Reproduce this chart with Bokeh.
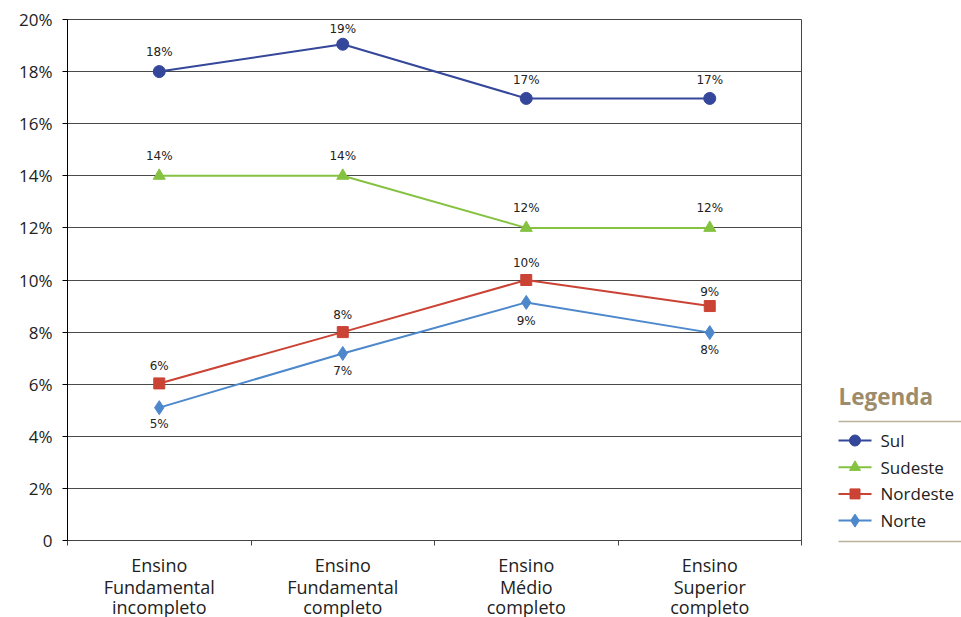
from bokeh.plotting import figure
from bokeh.layouts import row, column
from bokeh.models import FixedTicker, Range1d, ColumnDataSource
from bokeh.core.properties import value
from bokeh.embed import file_html
from bokeh.resources import INLINE

# Education levels (x categories)
categories = [
    "Ensino\nFundamental\nincompleto",
    "Ensino\nFundamental\ncompleto",
    "Ensino\nMédio\ncompleto",
    "Ensino\nSuperior\ncompleto",
]

# Share (%) per region
sul = [18.0, 19.05, 16.97, 16.97]
sudeste = [14.0, 14.0, 12.0, 12.0]
nordeste = [6.03, 8.0, 10.0, 9.0]
norte = [5.1, 7.18, 9.14, 7.98]

y_ticks = [0, 2, 4, 6, 8, 10, 12, 14, 16, 18, 20]

series = [
    # name, values, colour, marker, marker size, label offsets (px)
    ("Sul", sul, "#34479A", "circle", 12, [-20, -15, -18, -18]),
    ("Sudeste", sudeste, "#86C241", "triangle", 12, [-20, -20, -20, -20]),
    ("Nordeste", nordeste, "#CB4335", "square", 11, [-17, -17, -17, -14]),
    ("Norte", norte, "#4C88CB", "diamond", 14, [16, 18, 19, 17]),
]

AXIS_FONT = "Open Sans"
TEXT_COLOR = "#222222"
FRAME_COLOR = "#444444"
n = len(categories)
xs = [i + 0.5 for i in range(n)]
bounds = list(range(n + 1))
label_lines = [c.split("\n") for c in categories]

# ---- main chart -------------------------------------------------------
MAIN_H = 554
p = figure(
    width=820, height=MAIN_H,
    x_range=Range1d(0, n), y_range=Range1d(0, 20),
    output_backend="svg", toolbar_location=None,
    min_border_left=67, min_border_right=19,
    min_border_top=19, min_border_bottom=MAIN_H - 540,
)
p.outline_line_color = FRAME_COLOR
p.outline_line_width = 1
p.background_fill_color = "white"
p.border_fill_color = "white"

p.yaxis.ticker = FixedTicker(ticks=y_ticks)
p.yaxis.major_label_overrides = {t: ("0" if t == 0 else f"{t}%") for t in y_ticks}
p.yaxis.major_label_text_font = AXIS_FONT
p.yaxis.major_label_text_font_size = "17px"
p.yaxis.major_label_text_color = TEXT_COLOR
p.yaxis.major_tick_out = 5
p.yaxis.major_tick_in = 0
p.yaxis.minor_tick_line_color = None
p.yaxis.axis_line_color = "black"
p.yaxis.major_tick_line_color = "black"
p.yaxis.major_label_standoff = 10

# x axis: only tick marks at the category boundaries (names drawn below)
p.xaxis.ticker = FixedTicker(ticks=[], minor_ticks=bounds)
p.xaxis.minor_tick_out = 5
p.xaxis.minor_tick_in = 0
p.xaxis.minor_tick_line_color = FRAME_COLOR
p.xaxis.axis_line_color = FRAME_COLOR
p.xaxis.major_label_standoff = 0
p.xaxis.major_label_text_font_size = "1px"

p.xgrid.grid_line_color = None
p.ygrid.ticker = FixedTicker(ticks=y_ticks)
p.ygrid.grid_line_color = "#4a4a4a"
p.ygrid.grid_line_width = 1

for name, vals, color, marker, size, offsets in series:
    src = ColumnDataSource(dict(
        x=xs, y=vals, label=[f"{round(v):d}%" for v in vals], dy=offsets,
    ))
    p.line("x", "y", source=src, line_color=color, line_width=2)
    p.scatter("x", "y", source=src, marker=marker, size=size,
              fill_color=color, line_color=color)
    p.text("x", "y", text="label", source=src,
           text_font=value("DejaVu Sans"), text_font_size="12px",
           text_color=TEXT_COLOR, text_align="center",
           text_baseline="middle", y_offset="dy")

# ---- category names strip (shares the x range, pixel rows on y) ----------
STRIP_H = 617 - MAIN_H
ax = figure(
    width=820, height=STRIP_H,
    x_range=p.x_range, y_range=Range1d(STRIP_H, 0),
    output_backend="svg", toolbar_location=None,
    min_border_left=67, min_border_right=19,
    min_border_top=0, min_border_bottom=0,
)
ax.axis.visible = False
ax.grid.grid_line_color = None
ax.outline_line_color = None

line_rows = [10.5, 32.5, 52]
for k, yrow in enumerate(line_rows):
    ax.text(x=xs, y=[yrow] * n, text=[ln[k] for ln in label_lines],
            text_font=value(AXIS_FONT), text_font_size="18px",
            text_color=TEXT_COLOR, text_align="center",
            text_baseline="middle")

# ---- legend panel (pixel coordinates) -------------------------------------
lg = figure(
    width=141, height=617,
    x_range=Range1d(0, 141), y_range=Range1d(617, 0),
    output_backend="svg", toolbar_location=None,
    min_border=0, frame_align=False,
)
lg.axis.visible = False
lg.grid.grid_line_color = None
lg.outline_line_color = None

lg.text([18], [396], text=["Legenda"], text_font=value(AXIS_FONT),
        text_font_size="22.5px", text_font_style="bold",
        text_color="#9C8C6C", text_baseline="middle")
lg.segment([18], [421], [141], [421], line_color="#BCB29A", line_width=1.5)
lg.segment([18], [541], [141], [541], line_color="#BCB29A", line_width=1.5)

for i, (name, vals, color, marker, size, offsets) in enumerate(series):
    yy = 440 + i * 26.7
    lg.segment([18], [yy], [51], [yy], line_color=color, line_width=2)
    lg.scatter([34.5], [yy], marker=marker, size=size - 1,
               fill_color=color, line_color=color)
    lg.text([60], [yy], text=[name], text_font=value(AXIS_FONT),
            text_font_size="17px", text_color=TEXT_COLOR,
            text_baseline="middle")

layout = row(column(p, ax), lg)
open("out.html", "w").write(file_html(layout, INLINE))
